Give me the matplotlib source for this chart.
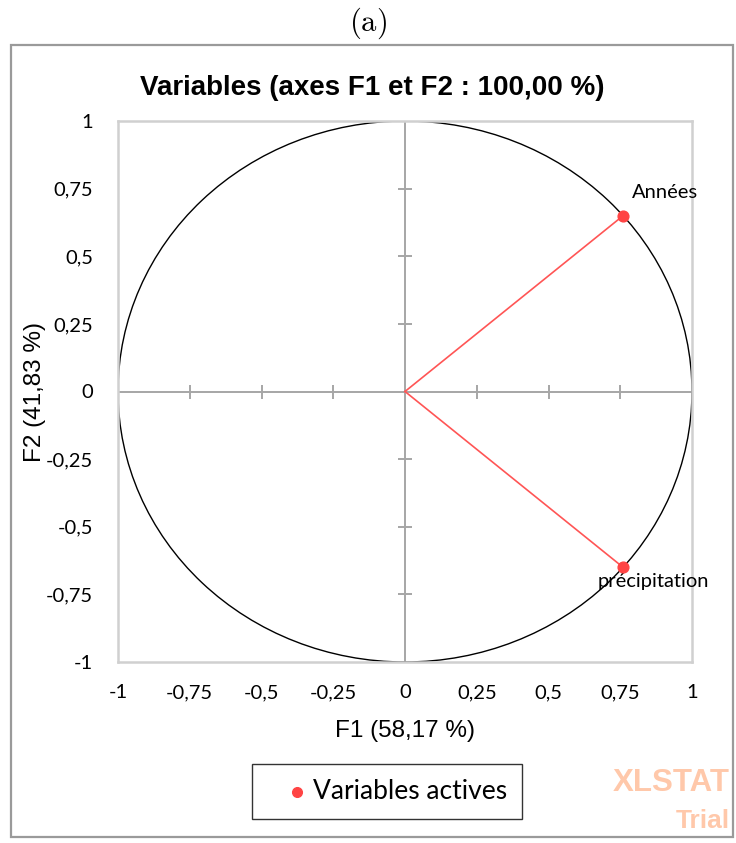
import matplotlib
matplotlib.use("Agg")
import matplotlib.pyplot as plt
from matplotlib.patches import Circle, Rectangle

plt.rcParams['mathtext.fontset'] = 'cm'

variables = ['Années', 'précipitation']
f1 = [0.76, 0.76]
f2 = [0.65, -0.65]
tick_vals = [-1, -0.75, -0.5, -0.25, 0, 0.25, 0.5, 0.75, 1]
tick_labels = ['-1', '-0,75', '-0,5', '-0,25', '0', '0,25', '0,5', '0,75', '1']
inner_ticks = [-0.75, -0.5, -0.25, 0.25, 0.5, 0.75]

red = '#ff4444'
line_red = '#ff5555'
grey = '#a6a6a6'
W, H = 736, 843

fig = plt.figure(figsize=(W / 100, H / 100), dpi=100)
ax = fig.add_axes([118 / W, 1 - 662 / H, 574 / W, 541 / H])

# outer chart box
fig.patches.append(Rectangle((11 / W, 1 - 837 / H), 722 / W, 792 / H,
                             transform=fig.transFigure, fill=False,
                             edgecolor='#9a9a9a', linewidth=1.6))

ax.set_xlim(-1, 1)
ax.set_ylim(-1, 1)
for sp in ax.spines.values():
    sp.set_color('#d0d0d0')
    sp.set_linewidth(1.8)

# cross axes through the origin with small ticks
ax.axhline(0, color=grey, lw=1.4, zorder=1)
ax.axvline(0, color=grey, lw=1.4, zorder=1)
ax.plot(inner_ticks, [0] * len(inner_ticks), '|', color=grey, ms=10, mew=1.4, zorder=1)
ax.plot([0] * len(inner_ticks), inner_ticks, '_', color=grey, ms=10, mew=1.4, zorder=1)

# unit circle
ax.add_patch(Circle((0, 0), 1, fill=False, edgecolor='black', lw=1.0, zorder=2))

# variable vectors
for x, y in zip(f1, f2):
    ax.plot([0, x], [0, y], color=line_red, lw=1.2, zorder=3)
pts = ax.scatter(f1, f2, s=60, color=red, zorder=4, label='Variables actives')

ax.annotate(variables[0], (f1[0], f2[0]), xytext=(9, 23), textcoords='offset pixels',
            ha='left', va='center', fontsize=14.5, family='Lato')
ax.annotate(variables[1], (f1[1], f2[1]), xytext=(30, -14), textcoords='offset pixels',
            ha='center', va='center', fontsize=14.5, family='Lato')

ax.set_xticks(tick_vals)
ax.set_xticklabels(tick_labels, family='Lato', fontsize=14.5)
ax.set_yticks(tick_vals)
ax.set_yticklabels(tick_labels, family='Lato', fontsize=14.5)
ax.tick_params(axis='both', length=0)
ax.tick_params(axis='x', pad=16)
ax.tick_params(axis='y', pad=18)

ax.set_xlabel('F1 (58,17 %)', family='Liberation Sans', fontsize=17.5, va='center')
ax.set_ylabel('F2 (41,83 %)', family='Liberation Sans', fontsize=17.5, va='center')
ax.xaxis.set_label_coords(0.5, (662 - 731) / 541)
ax.yaxis.set_label_coords((35 - 118) / 574, 0.5)

fig.text(372 / W, 1 - 88 / H, 'Variables (axes F1 et F2 : 100,00 %)',
         ha='center', va='center', fontsize=20, weight='bold', family='Liberation Sans')
fig.text(0.5, 1 - 23 / H, r'$\mathrm{(a)}$', ha='center', va='center', fontsize=22)

leg = fig.legend(handles=[pts], loc='center', bbox_to_anchor=(387 / W, 1 - 791.5 / H),
                 prop={'family': 'Lato', 'size': 19}, frameon=True, fancybox=False,
                 edgecolor='black', handlelength=2.3, handletextpad=-0.55,
                 borderpad=0.55, markerscale=0.9)
leg.get_frame().set_linewidth(1.0)

# watermark
fig.text(730 / W, 1 - 783 / H, 'XLSTAT', ha='right', va='center', fontsize=22.5,
         weight='bold', color='#ffc8aa', family='Liberation Sans')
fig.text(730 / W, 1 - 821 / H, 'Trial', ha='right', va='center', fontsize=19,
         weight='bold', color='#ffc8aa', family='Liberation Sans')

fig.savefig('out.png', dpi=100)
